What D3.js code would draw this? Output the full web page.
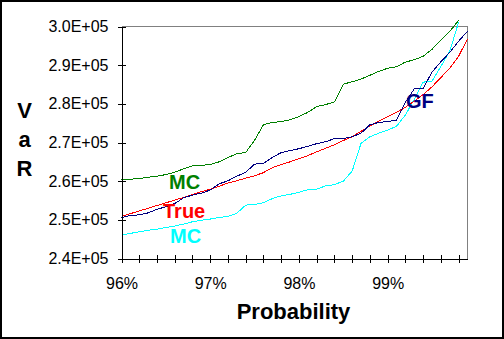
<!DOCTYPE html>
<html>
<head>
<meta charset="utf-8">
<script src="https://cdn.jsdelivr.net/npm/d3@7"></script>
<style>
  html, body { margin: 0; padding: 0; background: #fff; }
  svg { display: block; }
</style>
</head>
<body>
<svg id="chart" width="504" height="339"></svg>
<script>
// Confidence levels (0.1% steps from 96.0% to 99.9%)
const probLevels = [
  0.960, 0.961, 0.962, 0.963, 0.964, 0.965, 0.966, 0.967, 0.968, 0.969,
  0.970, 0.971, 0.972, 0.973, 0.974, 0.975, 0.976, 0.977, 0.978, 0.979,
  0.980, 0.981, 0.982, 0.983, 0.984, 0.985, 0.986, 0.987, 0.988, 0.989,
  0.990, 0.991, 0.992, 0.993, 0.994, 0.995, 0.996, 0.997, 0.998, 0.999
];

// Monte Carlo estimate, upper run (ends at 99.8%)
const mcHigh = [
  260400, 260500, 260700, 261000, 261300, 261700, 262300, 263200, 264000, 264100,
  264300, 265000, 266100, 267100, 267400, 270600, 274600, 275200, 275400, 275900,
  276700, 277800, 279300, 279800, 280500, 285100, 285700, 286400, 287400, 288400,
  289200, 289600, 290800, 291400, 292300, 294100, 296500, 298700, 301600
];

// Generating-function estimate
const gf = [
  250600, 251100, 251300, 251800, 252700, 253400, 254200, 255700, 256400, 256900,
  257700, 259300, 260100, 261300, 262300, 264400, 264600, 266100, 267400, 267900,
  268400, 269000, 269700, 270200, 271000, 271000, 271500, 272400, 274600, 275200,
  275400, 275800, 280400, 283900, 284000, 288200, 290900, 293300, 296200, 298800
];

// Exact VaR
const trueVaR = [
  250900, 251600, 252300, 253000, 253700, 254400, 255100, 255800, 256500, 257300,
  257900, 258700, 259500, 260100, 260800, 261400, 262200, 263500, 264300, 265000,
  265800, 266600, 267600, 268500, 269400, 270500, 271500, 272900, 274300, 275500,
  276700, 277800, 279100, 280700, 282400, 284400, 286800, 289200, 292300, 296800
];

// Monte Carlo estimate, lower run (ends at 99.8%)
const mcLow = [
  246000, 246500, 246900, 247300, 247600, 248000, 248400, 248900, 249500, 249900,
  250200, 250600, 250900, 251700, 253800, 254000, 254400, 255500, 256200, 256600,
  257100, 257800, 257900, 258800, 259100, 260000, 262600, 269800, 271500, 272400,
  273200, 274200, 277100, 281200, 285600, 285900, 289700, 293600, 301100
];

// Axis ticks and labels
const xTickValues = [
  0.960, 0.962, 0.964, 0.966, 0.968, 0.970, 0.972, 0.974, 0.976, 0.978,
  0.980, 0.982, 0.984, 0.986, 0.988, 0.990, 0.992, 0.994, 0.996, 0.998
];
const xLabelValues = [0.96, 0.97, 0.98, 0.99];
const xLabels = ["96%", "97%", "98%", "99%"];
const yTickValues = [240000, 250000, 260000, 270000, 280000, 290000, 300000];
const yTickLabels = ["2.4E+05", "2.5E+05", "2.6E+05", "2.7E+05", "2.8E+05", "2.9E+05", "3.0E+05"];

const series = [
  { name: "MC",   values: mcLow,   color: "#00ffff" },
  { name: "True", values: trueVaR, color: "#ff0000" },
  { name: "GF",   values: gf,      color: "#000080" },
  { name: "MC",   values: mcHigh,  color: "#008000" }
];

const FONT = "'Liberation Sans', Arial, Helvetica, sans-serif";
const svg = d3.select("#chart");

// white background and outer frame
svg.append("rect").attr("x", 0).attr("y", 0).attr("width", 504).attr("height", 339).attr("fill", "#fff");
svg.append("rect").attr("x", 1).attr("y", 1).attr("width", 502).attr("height", 337)
  .attr("fill", "none").attr("stroke", "#000").attr("stroke-width", 2);

const x = d3.scaleLinear().domain([0.96, 0.999]).range([121, 467]);
const y = d3.scaleLinear().domain([240000, 300000]).range([258, 26]);

const g = svg.append("g").attr("transform", "translate(0.5,0.5)");

// plot-area frame (top and right edges)
g.append("path")
  .attr("d", `M${x(0.96)},${y(300000)}H${x(0.999)}V${y(240000)}`)
  .attr("fill", "none").attr("stroke", "#808080").attr("shape-rendering", "crispEdges");

// series lines
const line = d3.line()
  .x((d, i) => x(probLevels[i]))
  .y(d => y(d));

g.selectAll("path.series")
  .data(series)
  .join("path")
  .attr("class", "series")
  .attr("d", d => line(d.values))
  .attr("fill", "none")
  .attr("stroke", d => d.color)
  .attr("stroke-width", 1)
  .attr("shape-rendering", "crispEdges");

// y axis
const yAxis = g.append("g")
  .attr("transform", `translate(${x(0.96)},0)`)
  .call(d3.axisLeft(y)
    .tickValues(yTickValues)
    .tickFormat((d, i) => yTickLabels[i])
    .tickSizeInner(4).tickSizeOuter(0).tickPadding(9));
yAxis.selectAll(".tick line").attr("x1", 4);

// x axis
const xAxis = g.append("g")
  .attr("transform", `translate(0,${y(240000)})`)
  .call(d3.axisBottom(x)
    .tickValues(xTickValues)
    .tickFormat(d => {
      const k = xLabelValues.findIndex(v => Math.abs(v - d) < 1e-9);
      return k >= 0 ? xLabels[k] : "";
    })
    .tickSizeInner(4).tickSizeOuter(0).tickPadding(15));
xAxis.selectAll(".tick line").attr("y1", -4);

[yAxis, xAxis].forEach(a => {
  a.attr("font-family", FONT).attr("font-size", 16);
  a.selectAll("text").attr("fill", "#000");
  a.selectAll("line, path").attr("stroke", "#000").attr("shape-rendering", "crispEdges");
});

// series labels
const seriesLabels = [
  { text: "MC",   color: "#008000", x: 169, y: 189 },
  { text: "True", color: "#ff0000", x: 163, y: 218 },
  { text: "MC",   color: "#00ffff", x: 170, y: 243 },
  { text: "GF",   color: "#000080", x: 406, y: 108 }
];
svg.selectAll("text.slabel")
  .data(seriesLabels)
  .join("text")
  .attr("class", "slabel")
  .attr("x", d => d.x).attr("y", d => d.y)
  .attr("fill", d => d.color)
  .attr("font-family", FONT).attr("font-weight", "bold").attr("font-size", 20)
  .text(d => d.text);

// axis titles
svg.append("text")
  .attr("x", 293.5).attr("y", 319)
  .attr("text-anchor", "middle")
  .attr("font-family", FONT).attr("font-weight", "bold").attr("font-size", 22)
  .text("Probability");

svg.selectAll("text.ytitle")
  .data(["V", "a", "R"])
  .join("text")
  .attr("class", "ytitle")
  .attr("x", 24.5).attr("y", (d, i) => 118 + i * 29)
  .attr("text-anchor", "middle")
  .attr("font-family", FONT).attr("font-weight", "bold").attr("font-size", 22)
  .text(d => d);
</script>
</body>
</html>
